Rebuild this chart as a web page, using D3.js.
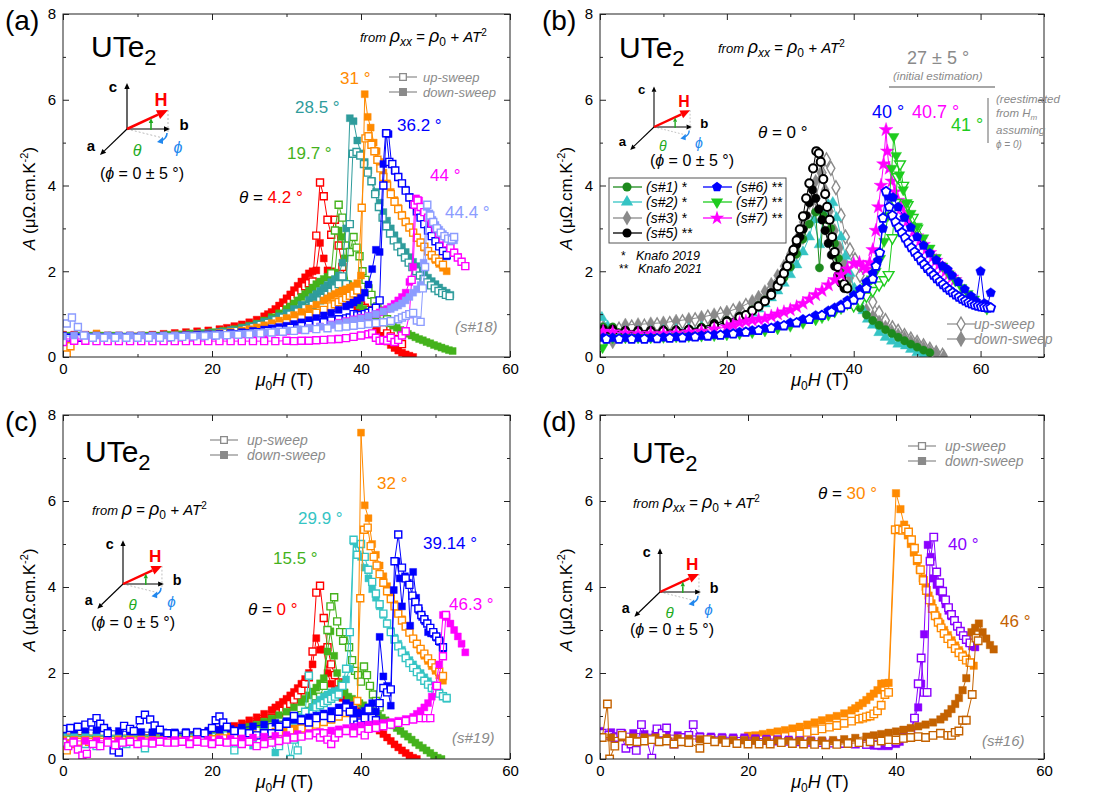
<!DOCTYPE html>
<html>
<head>
<meta charset="utf-8">
<script src="https://cdn.jsdelivr.net/npm/d3@7"></script>
<style>
  body { margin: 0; background: #fff; }
  svg { display: block; }
  text { font-family: "Liberation Sans", Arial, sans-serif; }
</style>
</head>
<body>
<svg id="fig" width="1093" height="811"></svg>
<script>
// ---------- data : [field (T), A (µΩ.cm.K^-2)] ----------
// panel (a), sample s#18
const aRedDn = [[0,0.52],[1.5,0.52],[3,0.52],[4.5,0.52],[6,0.5],[7.5,0.5],[9,0.5],[10.5,0.5],[12,0.52],[13.5,0.54],[15,0.56],[16.5,0.58],[18,0.6],[19.5,0.62],[21,0.65],[22,0.68],[23,0.72],[24,0.76],[25,0.81],[26,0.87],[27,0.95],[27.5,1.0],[28,1.05],[28.5,1.12],[29,1.2],[29.5,1.28],[30,1.37],[30.5,1.46],[31,1.56],[31.5,1.66],[32,1.76],[32.5,1.86],[33,1.95],[33.5,2.0],[34,2.02],[34.5,2.66],[35,2.3],[35.5,2.02],[36,2.0],[36.5,1.92],[37,1.78],[37.5,1.64],[38,1.5],[38.5,1.38],[39,1.27],[39.5,1.16],[40,1.06],[40.5,0.98],[41,0.9],[41.5,0.8],[42,0.7],[42.5,0.57],[43,0.46],[43.5,0.36],[44,0.28],[44.5,0.21],[45,0.15],[45.5,0.1],[46,0.06],[46.5,0.03],[47,0.0]];
const aRedUp = [[0.5,0.48],[2,0.48],[3.5,0.47],[5,0.47],[6.5,0.46],[8,0.46],[9.5,0.47],[11,0.47],[12.5,0.48],[14,0.49],[15.5,0.5],[17,0.52],[18.5,0.53],[20,0.55],[21.5,0.58],[23,0.62],[24,0.66],[25,0.7],[26,0.75],[27,0.82],[28,0.9],[28.5,0.96],[29,1.02],[29.5,1.1],[30,1.18],[30.5,1.27],[31,1.36],[31.5,1.46],[32,1.55],[32.5,1.65],[33,1.72],[33.5,1.76],[34,2.83],[34.5,4.07],[35,3.75],[35.5,3.2],[36,2.85],[36.5,3.2],[37,2.6],[37.5,2.1],[38,1.7],[38.5,1.5],[39,1.35],[39.5,1.25],[40,1.2],[40.5,1.15],[41,1.1],[41.5,1.05],[42,0.95],[42.5,0.8],[43,0.65],[43.5,0.55],[44,0.48],[44.5,0.42],[45,0.38],[45.5,0.3]];
const aGreenDn = [[0.5,0.5],[2,0.5],[3.5,0.5],[5,0.5],[6.5,0.5],[8,0.48],[9.5,0.48],[11,0.5],[12.5,0.5],[14,0.52],[15.5,0.53],[17,0.55],[18.5,0.56],[20,0.58],[21.5,0.61],[23,0.65],[24,0.69],[25,0.73],[26,0.78],[27,0.85],[28,0.93],[29,1.02],[30,1.12],[30.5,1.18],[31,1.25],[31.5,1.32],[32,1.4],[32.5,1.47],[33,1.55],[33.5,1.62],[34,1.7],[34.5,1.76],[35,1.82],[35.5,1.87],[36,1.92],[36.5,1.97],[37,2.95],[37.4,2.8],[37.8,2.3],[38.3,1.7],[38.8,1.45],[39.3,1.3],[39.8,1.2],[40.3,1.12],[40.8,1.06],[41.3,1.0],[41.8,0.95],[42.3,0.9],[42.8,0.86],[43.3,0.82],[43.8,0.78],[44.3,0.73],[44.8,0.68],[45.3,0.63],[45.8,0.58],[46.3,0.54],[46.8,0.5],[47.3,0.46],[47.8,0.42],[48.3,0.39],[48.8,0.35],[49.3,0.32],[49.8,0.28],[50.3,0.25],[50.8,0.22],[51.3,0.19],[51.8,0.16],[52.3,0.14]];
const aGreenUp = [[0,0.45],[1.5,0.45],[3,0.45],[4.5,0.45],[6,0.45],[7.5,0.45],[9,0.45],[10.5,0.45],[12,0.46],[13.5,0.47],[15,0.48],[16.5,0.49],[18,0.5],[19.5,0.52],[21,0.54],[22.5,0.57],[24,0.6],[25,0.63],[26,0.67],[27,0.72],[28,0.78],[29,0.84],[30,0.9],[30.5,0.95],[31,1.0],[31.5,1.05],[32,1.1],[32.5,1.16],[33,1.22],[33.5,1.3],[34,1.38],[34.5,1.45],[35,1.55],[35.5,1.7],[36,1.95],[36.5,2.95],[37,3.55],[37.5,3.25],[38,2.6],[38.5,2.45],[39,2.8],[39.4,2.55],[39.8,2.35],[40.2,2.0],[40.6,1.8],[41,1.6],[41.4,1.45],[41.8,1.3],[42.2,1.18],[42.6,1.08],[43,0.98],[43.5,0.88],[44,0.8]];
const aTealDn = [[0,0.48],[1.5,0.48],[3,0.48],[4.5,0.48],[6,0.48],[7.5,0.48],[9,0.48],[10.5,0.48],[12,0.49],[13.5,0.5],[15,0.51],[16.5,0.52],[18,0.54],[19.5,0.56],[21,0.59],[22.5,0.63],[24,0.67],[25,0.71],[26,0.76],[27,0.82],[28,0.88],[29,0.95],[30,1.03],[31,1.12],[32,1.22],[33,1.33],[33.5,1.4],[34,1.47],[34.5,1.54],[35,1.61],[35.5,1.68],[36,1.75],[36.5,1.82],[37,1.9],[37.5,2.2],[38,3.0],[38.5,5.57],[39,5.5],[39.5,5.05],[40,4.75],[40.5,4.55],[41,4.35],[41.5,4.1],[42,3.85],[42.5,3.6],[43,3.38],[43.5,3.18],[44,3.0],[44.5,2.84],[45,2.7],[45.5,2.57],[46,2.45],[46.5,2.33],[47,2.22],[47.5,2.12],[48,2.02],[48.5,1.93],[49,1.85],[49.5,1.77],[50,1.7],[50.5,1.62],[51,1.55],[51.5,1.5],[52,1.45]];
const aTealUp = [[0.5,0.45],[2,0.45],[3.5,0.45],[5,0.45],[6.5,0.45],[8,0.45],[9.5,0.45],[11,0.45],[12.5,0.46],[14,0.47],[15.5,0.48],[17,0.5],[18.5,0.52],[20,0.54],[21.5,0.57],[23,0.61],[24.5,0.66],[25.5,0.7],[26.5,0.75],[27.5,0.8],[28.5,0.86],[29.5,0.92],[30.5,0.99],[31.5,1.06],[32.5,1.14],[33.5,1.22],[34.5,1.32],[35,1.38],[35.5,1.45],[36,1.52],[36.5,1.6],[37,1.7],[37.5,1.88],[38,1.7],[38.5,3.1],[38.9,4.74],[39.4,4.78],[39.9,4.7],[40.4,4.5],[40.9,4.3],[41.4,4.1],[41.9,3.8],[42.4,3.5],[42.9,3.25],[43.4,3.05],[43.9,2.88],[44.4,2.72],[44.9,2.58],[45.4,2.45],[45.9,2.32],[46.4,2.2],[46.9,2.1],[47.4,2.0],[47.9,1.9],[48.4,1.82],[48.9,1.74],[49.4,1.67],[49.9,1.6],[50.4,1.54],[50.9,1.49],[51.4,1.45],[51.9,1.42]];
const aOrangeDn = [[0,0.5],[1.5,0.5],[3,0.5],[4.5,0.55],[6,0.5],[7.5,0.5],[9,0.5],[10.5,0.5],[12,0.5],[13.5,0.5],[15,0.51],[16.5,0.52],[18,0.53],[19.5,0.54],[21,0.56],[22.5,0.59],[24,0.62],[25,0.65],[26,0.69],[27,0.74],[28,0.79],[29,0.85],[30,0.91],[31,0.98],[32,1.05],[33,1.13],[34,1.22],[35,1.32],[35.5,1.37],[36,1.42],[36.5,1.47],[37,1.51],[37.5,1.55],[38,1.58],[38.5,1.62],[39,1.66],[39.5,1.72],[40,1.9],[40.5,6.13],[40.9,5.6],[41.3,5.35],[41.7,5.0],[42.1,4.8],[42.5,4.55],[43,4.3],[43.5,4.05],[44,3.85],[44.5,3.66],[45,3.48],[45.5,3.32],[46,3.17],[46.5,3.03],[47,2.9],[47.5,2.78],[48,2.66],[48.5,2.55],[49,2.45],[49.5,2.35],[50,2.26],[50.5,2.17],[51,2.08],[51.5,2.0]];
const aOrangeUp = [[0.5,0.06],[1,0.25],[1.5,0.42],[3,0.45],[4.5,0.45],[6,0.45],[7.5,0.45],[9,0.45],[10.5,0.45],[12,0.45],[13.5,0.46],[15,0.47],[16.5,0.48],[18,0.49],[19.5,0.5],[21,0.52],[22.5,0.54],[24,0.57],[25.5,0.61],[27,0.66],[28,0.7],[29,0.74],[30,0.79],[31,0.84],[32,0.9],[33,0.96],[34,1.03],[35,1.1],[36,1.18],[36.5,1.23],[37,1.28],[37.5,1.33],[38,1.38],[38.5,1.43],[39,1.48],[39.5,1.55],[40.1,3.48],[40.6,5.1],[41,5.15],[41.4,4.95],[41.8,4.8],[42.2,4.6],[42.6,4.4],[43,4.2],[43.5,4.0],[44,3.8],[44.5,3.62],[45,3.45],[45.5,3.3],[46,3.15],[46.5,3.02],[47,2.9],[47.5,2.78],[48,2.67],[48.5,2.57],[49,2.47],[49.5,2.38],[50,2.3],[50.5,2.22],[51,2.15]];
const aBlueDn = [[0,0.5],[1.5,0.5],[3,0.5],[4.5,0.5],[6,0.5],[7.5,0.5],[9,0.5],[10.5,0.5],[12,0.5],[13.5,0.5],[15,0.5],[16.5,0.51],[18,0.52],[19.5,0.53],[21,0.54],[22.5,0.56],[24,0.58],[25.5,0.61],[27,0.64],[28,0.67],[29,0.7],[30,0.73],[31,0.77],[32,0.81],[33,0.86],[34,0.91],[35,0.97],[36,1.03],[37,1.1],[38,1.18],[38.5,1.22],[39,1.27],[39.5,1.32],[40,1.38],[40.5,1.5],[41,1.69],[41.5,2.05],[42,2.5],[42.5,2.45],[43,4.5],[43.3,5.22],[43.7,5.2],[44.1,4.5],[44.5,4.35],[45,4.2],[45.5,4.05],[46,3.9],[46.5,3.73],[47,3.58],[47.5,3.43],[48,3.28],[48.5,3.14],[49,3.0],[49.5,2.87],[50,2.74],[50.5,2.6],[51,2.47],[51.5,2.35]];
const aBlueUp = [[0.5,0.45],[2,0.45],[3.5,0.45],[5,0.45],[6.5,0.45],[8,0.45],[9.5,0.45],[11,0.45],[12.5,0.45],[14,0.46],[15.5,0.47],[17,0.48],[18.5,0.49],[20,0.5],[21.5,0.51],[23,0.53],[24.5,0.55],[26,0.58],[27.5,0.61],[29,0.64],[30.5,0.68],[32,0.72],[33,0.75],[34,0.78],[35,0.81],[36,0.85],[37,0.88],[38,0.9],[38.5,0.92],[39,1.0],[39.5,0.97],[40,0.98],[40.5,1.0],[41,1.03],[41.5,1.08],[42,1.15],[42.5,1.32],[43,4.0],[43.4,5.22],[43.8,4.55],[44.2,4.5],[44.6,4.35],[45,4.2],[45.5,4.05],[46,3.88],[46.5,3.72],[47,3.56],[47.5,3.4],[48,3.25],[48.5,3.1],[49,2.95],[49.5,2.82],[50,2.7],[50.5,2.58],[51,2.47],[51.5,2.38]];
const aMagentaDn = [[0,0.42],[1.5,0.42],[3,0.42],[4.5,0.42],[6,0.42],[7.5,0.42],[9,0.42],[10.5,0.42],[12,0.43],[13.5,0.43],[15,0.44],[16.5,0.44],[18,0.45],[19.5,0.46],[21,0.47],[22.5,0.48],[24,0.5],[25.5,0.52],[27,0.55],[28.5,0.58],[30,0.6],[31.5,0.63],[33,0.67],[34.5,0.71],[36,0.76],[37,0.8],[38,0.84],[39,0.88],[40,0.92],[41,0.96],[42,1.0],[42.5,1.04],[43,1.08],[43.5,1.12],[44,1.17],[44.5,1.24],[45,1.32],[45.5,1.4],[46,1.5],[46.5,1.75],[47,2.1],[47.4,3.7],[47.8,3.65],[48.2,3.5],[48.6,3.38],[49,3.27],[49.5,3.15],[50,3.03],[50.5,2.9],[51,2.78],[51.5,2.66],[52,2.55],[52.5,2.44],[53,2.33],[53.5,2.22],[54,2.12]];
const aMagentaUp = [[0,0.35],[1.5,0.38],[3,0.38],[4.5,0.37],[6,0.37],[7.5,0.37],[9,0.37],[10.5,0.37],[12,0.37],[13.5,0.37],[15,0.37],[16.5,0.37],[18,0.37],[19.5,0.37],[21,0.37],[22.5,0.37],[24,0.37],[25.5,0.37],[27,0.37],[28.5,0.37],[30,0.38],[31,0.37],[32,0.38],[33,0.38],[34,0.39],[35,0.4],[36,0.41],[37,0.42],[38,0.44],[39,0.47],[40,0.5],[41,0.53],[41.5,0.55],[42,0.45],[42.5,0.38],[43,0.4],[43.5,0.38],[44,0.45],[44.5,0.35],[45,0.4],[45.5,0.5],[46,0.6],[46.5,1.0],[46.8,1.8],[47.2,3.55],[47.6,3.65],[48,3.5],[48.5,3.38],[49,3.25],[49.5,3.12],[50,3.0],[50.5,2.88],[51,2.76],[51.5,2.65],[52,2.54],[52.5,2.43],[53,2.32],[53.5,2.22],[54,2.12]];
const aLavDn = [[0,0.48],[1.5,0.5],[3,0.5],[4.5,0.5],[6,0.5],[7.5,0.5],[9,0.5],[10.5,0.5],[12,0.5],[13.5,0.5],[15,0.5],[16.5,0.5],[18,0.5],[19.5,0.51],[21,0.52],[22.5,0.53],[24,0.54],[25.5,0.56],[27,0.58],[28.5,0.6],[30,0.62],[31.5,0.65],[33,0.68],[34.5,0.71],[36,0.75],[37,0.78],[38,0.82],[39,0.86],[40,0.9],[41,0.95],[42,1.0],[43,1.06],[44,1.12],[44.5,1.16],[45,1.2],[45.5,1.25],[46,1.32],[46.5,1.4],[47,1.5],[47.5,1.58],[48,1.68],[48.4,2.2],[48.8,3.5],[49.2,3.35],[49.6,3.2],[50,3.08],[50.5,2.97],[51,2.87],[51.5,2.78],[52,2.7],[52.5,2.72]];
const aLavUp = [[0.5,0.78],[1.2,0.92],[2,0.7],[2.8,0.5],[4,0.45],[5.5,0.45],[7,0.45],[8.5,0.45],[10,0.45],[11.5,0.45],[13,0.45],[14.5,0.46],[16,0.47],[17.5,0.48],[19,0.49],[20.5,0.5],[22,0.51],[23.5,0.52],[25,0.53],[26.5,0.55],[28,0.57],[29.5,0.59],[31,0.61],[32.5,0.63],[34,0.65],[35.5,0.67],[37,0.69],[38,0.71],[39,0.73],[40,0.75],[41,0.77],[42,0.79],[43,0.81],[44,0.84],[45,0.88],[45.5,0.92],[46,0.96],[46.5,1.0],[47,1.03],[47.5,0.85],[48,0.82],[48.3,1.6],[48.6,2.1],[48.9,3.55],[49.3,3.3],[49.7,3.15],[50.2,3.0],[50.7,2.9],[51.2,2.82],[51.7,2.76],[52.2,2.74],[52.5,2.8]];

// panel (b), several samples
const bS1 = [[0.5,0.7],[2,0.7],[4,0.62],[6,0.6],[8,0.6],[10,0.62],[12,0.63],[14,0.65],[16,0.7],[18,0.78],[20,0.85],[22,0.95],[24,1.1],[25,1.2],[26,1.33],[27,1.48],[28,1.65],[29,1.85],[30,2.1],[31,2.4],[32,2.75],[33,3.1],[34,3.38],[34.6,2.08],[35.2,3.3],[35.8,3.2],[36.4,3.0],[37,2.65],[37.6,2.3],[38.2,1.96],[39,1.65],[40,1.35],[41,1.15],[42,0.98],[43,0.85],[44,0.74],[45,0.64],[46,0.55],[47,0.46],[48,0.38],[49,0.3],[50,0.23],[51,0.16],[52,0.1]];
const bS2 = [[0.3,0.92],[1.2,0.72],[2,0.62],[4,0.6],[6,0.6],[8,0.6],[10,0.62],[12,0.64],[14,0.66],[16,0.7],[18,0.74],[20,0.8],[22,0.9],[24,1.02],[25,1.12],[26,1.24],[27,1.38],[28,1.54],[29,1.72],[30,1.92],[31,2.15],[32,2.45],[33,2.8],[33.7,3.2],[34.6,2.62],[35.3,3.35],[36,3.55],[36.7,3.6],[37.3,3.25],[38,2.8],[38.7,2.35],[39.4,1.95],[40.1,1.6],[40.8,1.32],[41.5,1.08],[42.2,0.88],[43,0.74],[44,0.57],[45,0.46],[46,0.37],[47,0.3],[48.2,0.26],[49,0.18],[50,0.1],[51,0.03]];
const bS3 = [[0.5,0.7],[2,0.35],[4,0.75],[6,0.76],[8,0.78],[10,0.8],[12,0.84],[14,0.88],[16,0.93],[18,0.99],[20,1.05],[22,1.15],[24,1.3],[25,1.4],[26,1.53],[27,1.7],[28,1.9],[29,2.12],[30,2.4],[31,2.75],[32,3.15],[33,3.6],[34,4.1],[34.8,4.3],[35.5,3.9],[36.2,3.4],[37,2.95],[37.8,2.55],[38.6,2.2],[39.4,1.85],[40.2,1.55],[41,1.3],[42,1.1],[43,0.95],[44,0.82],[45,0.7],[46,0.6],[47,0.52],[48,0.45],[49,0.37],[50,0.3],[51,0.22],[52,0.14],[53,0.08],[54.2,0.02]];
const bS3Up = [[1,0.6],[3,0.65],[5,0.7],[7,0.72],[9,0.75],[11,0.78],[13,0.82],[15,0.87],[17,0.93],[19,1.0],[21,1.08],[23,1.2],[25,1.35],[27,1.6],[29,1.95],[30,2.15],[31,2.45],[32,2.8],[33,3.2],[34,3.7],[35,4.3],[35.7,4.6],[36.4,4.4],[37.2,3.95],[38,3.3],[38.7,2.8],[39.4,2.5],[40.2,2.27],[41,1.9],[42,1.55],[43,1.28],[44,1.03],[45,0.85],[46.1,0.68],[47,0.6],[48,0.5],[49,0.42],[50,0.34],[51,0.26],[52,0.18],[53,0.1],[54,0.04]];
const bS5 = [[0.5,0.65],[2,0.65],[4,0.62],[6,0.62],[8,0.62],[10,0.63],[12,0.63],[14,0.65],[16,0.68],[18,0.78],[20,0.85],[22,0.95],[24,1.08],[25,1.18],[26,1.32],[27,1.5],[28,1.7],[28.5,1.82],[29,1.98],[29.5,2.12],[30,2.28],[30.5,2.45],[31,2.62],[31.5,2.8],[32,2.98],[32.5,3.3],[33,3.6],[33.5,3.9],[34,3.7],[34.5,3.45],[35,3.2],[35.5,2.95],[36,2.65],[36.5,2.38],[37,2.12],[37.5,1.9],[38,1.72],[38.5,1.6]];
const bS5Up = [[0.5,0.6],[2,0.6],[4,0.58],[6,0.58],[8,0.58],[10,0.6],[12,0.6],[14,0.62],[16,0.65],[18,0.72],[20,0.82],[22,0.92],[23,0.98],[24,1.08],[25,1.18],[26,1.3],[27,1.45],[28,1.65],[28.5,1.78],[29,1.95],[29.5,2.12],[30,2.3],[30.5,2.5],[31,2.72],[31.5,2.98],[32,3.28],[32.5,3.7],[33,4.05],[33.6,4.4],[34.1,4.8],[34.5,4.75],[34.8,4.55],[35.2,4.15],[35.5,3.8],[35.8,3.5],[36.2,3.2],[36.6,2.8],[37,2.45],[37.5,2.1],[38,1.85],[38.5,1.7],[39,1.6]];
const bS6 = [[0.5,0.45],[2,0.45],[4,0.45],[6,0.45],[8,0.45],[10,0.46],[12,0.47],[14,0.48],[16,0.5],[18,0.52],[20,0.55],[22,0.58],[24,0.62],[26,0.67],[28,0.73],[30,0.8],[32,0.88],[34,0.97],[36,1.08],[37,1.15],[38,1.22],[39,1.32],[40,1.44],[41,1.58],[42,1.75],[43,1.95],[43.8,2.25],[44.6,3.0],[45.4,3.75],[46.2,3.72],[47,3.5],[48,3.25],[49,3.02],[50,2.8],[51,2.6],[52,2.42],[53,2.26],[54,2.12],[54.8,2.04],[55.5,1.9],[56.5,1.75],[57.5,1.58],[58.5,1.42],[59.3,1.3],[60,2.0],[60.6,1.25],[61.1,1.2],[61.6,1.5]];
const bS6Up = [[1,0.42],[3,0.42],[5,0.42],[7,0.42],[9,0.43],[11,0.44],[13,0.45],[15,0.47],[17,0.49],[19,0.51],[21,0.54],[23,0.58],[25,0.62],[27,0.67],[29,0.73],[31,0.8],[33,0.88],[35,0.97],[36.5,1.05],[38,1.15],[39,1.23],[40,1.33],[41,1.45],[42,1.6],[43,1.82],[43.5,2.12],[44.1,2.43],[44.6,3.24],[45.1,3.86],[45.6,3.5],[46.1,3.3],[46.6,3.15],[47.1,3.02],[47.6,2.9],[48.1,2.78],[48.6,2.66],[49.1,2.55],[49.6,2.45],[50.1,2.35],[50.6,2.25],[51.1,2.16],[51.6,2.07],[52.1,1.99],[52.6,1.91],[53.1,1.83],[53.6,1.76],[54.1,1.69],[54.6,1.62],[55.1,1.56],[55.6,1.5],[56.1,1.45],[56.6,1.4],[57.1,1.35],[57.6,1.31],[58.1,1.27],[58.6,1.24],[59.1,1.21],[59.6,1.19],[60.1,1.17],[60.6,1.16],[61.1,1.15],[61.6,1.15]];
const bS7g = [[0.4,0.22],[1,0.4],[2,0.45],[4,0.45],[6,0.45],[8,0.45],[10,0.46],[12,0.47],[14,0.48],[16,0.49],[18,0.5],[20,0.52],[22,0.54],[24,0.57],[26,0.61],[28,0.66],[30,0.72],[32,0.79],[34,0.87],[35,0.92],[36,0.98],[37,1.05],[38,1.13],[39,1.23],[40,1.35],[41,1.48],[42,1.65],[42.8,1.82],[43.5,2.0],[44.2,2.3],[44.8,2.7],[45.4,3.3],[46,4.4],[46.3,5.14],[46.7,4.7],[47.2,4.25],[47.8,3.9],[48.4,3.6],[49,3.35],[50,3.05],[51,2.78],[52,2.54],[53,2.32],[54,2.12],[55,1.94],[56,1.78],[57,1.62],[58,1.48],[59,1.35],[60,1.23],[61,1.12]];
const bS7gUp = [[40,1.2],[41,1.3],[42,1.42],[43,1.55],[44,1.68],[44.8,1.8],[45.5,1.92],[46.1,2.78],[46.6,3.6],[46.9,4.2],[47.3,4.5],[47.8,4.0],[48.5,3.55],[49.3,3.25],[50,3.0]];
const bS7m = [[0.5,0.6],[2,0.58],[4,0.56],[6,0.55],[8,0.55],[10,0.55],[12,0.56],[14,0.58],[16,0.6],[18,0.65],[20,0.7],[21,0.75],[22,0.8],[23,0.83],[24,0.86],[25,0.88],[26,0.9],[27,0.95],[28,1.0],[29,1.05],[30,1.1],[31,1.17],[32,1.25],[33,1.35],[34,1.45],[35,1.55],[36,1.68],[37,1.8],[38,1.92],[39,2.05],[40,2.18],[40.9,2.2],[41.5,2.1],[42,2.05],[42.5,2.2],[43,2.5],[43.5,2.95],[43.9,3.5],[44.3,4.0],[44.7,4.5],[45.1,5.3],[45.3,4.8],[45.6,4.4],[46,4.1],[46.5,3.85],[47,3.65],[47.5,3.48],[48,3.32],[48.5,3.18],[49,3.05],[49.5,2.93],[50,2.82],[50.5,2.72],[51,2.62],[51.5,2.52],[52,2.43],[52.5,2.34],[53,2.25],[53.5,2.16],[54,2.08],[54.5,2.0],[55,1.93],[55.5,1.86],[56,1.8]];

// panel (c), sample s#19
const cRedDn = [[0,0.58],[1.5,0.58],[3,0.56],[4.5,0.55],[6,0.55],[7.5,0.55],[9,0.56],[10.5,0.56],[12,0.57],[13.5,0.58],[15,0.59],[16.5,0.6],[18,0.62],[19.5,0.64],[21,0.68],[22,0.72],[23,0.77],[24,0.83],[25,0.9],[26,0.97],[27,1.05],[28,1.14],[28.5,1.2],[29,1.26],[29.5,1.33],[30,1.4],[30.5,1.48],[31,1.56],[31.5,1.65],[32,1.75],[32.5,1.86],[33,2.0],[33.5,2.2],[34,2.81],[34.5,2.54],[35,2.55],[35.5,2.0],[36,1.75],[36.5,1.6],[37,1.5],[37.5,1.42],[38,1.35],[38.5,1.28],[39,1.2],[39.5,1.12],[40,1.05],[40.5,0.98],[41,0.9],[41.5,0.82],[42,0.74],[42.5,0.66],[43,0.58],[43.5,0.5],[44,0.42],[44.5,0.34],[45,0.27],[45.5,0.2],[46,0.14],[46.5,0.08],[47,0.03],[47.5,0.0]];
const cRedUp = [[0.5,0.45],[2,0.45],[3.5,0.45],[5,0.45],[6.5,0.45],[8,0.45],[9.5,0.46],[11,0.46],[12.5,0.47],[14,0.48],[15.5,0.49],[17,0.5],[18.5,0.52],[20,0.55],[21.5,0.59],[23,0.64],[24,0.69],[25,0.75],[26,0.81],[27,0.88],[28,0.96],[29,1.06],[29.5,1.12],[30,1.2],[30.5,1.28],[31,1.38],[31.5,1.48],[32,1.6],[32.5,1.75],[33,1.9],[33.5,2.5],[34,3.87],[34.5,4.03],[35,3.28],[35.5,2.6],[36,2.2],[36.5,1.95],[37,1.78]];
const cGreenDn = [[0,0.55],[1.5,0.55],[3,0.55],[4.5,0.55],[6,0.55],[7.5,0.55],[9,0.55],[10.5,0.55],[12,0.56],[13.5,0.56],[15,0.57],[16.5,0.58],[18,0.59],[19.5,0.6],[21,0.62],[22.5,0.65],[24,0.7],[25,0.75],[26,0.8],[27,0.87],[28,0.94],[29,1.02],[30,1.1],[31,1.2],[32,1.32],[32.5,1.4],[33,1.48],[33.5,1.57],[34,1.66],[34.5,1.76],[35,1.88],[35.5,2.5],[35.9,2.97],[36.4,2.4],[36.8,2.0],[37.3,1.75],[37.8,1.55],[38.3,1.45],[38.8,1.4],[39.3,1.35],[39.8,1.3],[40.3,1.25],[40.8,1.2],[41.3,1.14],[41.8,1.08],[42.3,1.02],[42.8,0.96],[43.3,0.9],[43.8,0.84],[44.3,0.78],[44.8,0.72],[45.3,0.65],[45.8,0.58],[46.3,0.52],[46.8,0.45],[47.3,0.38],[47.8,0.32],[48.3,0.26],[48.8,0.2],[49.3,0.14],[49.8,0.08],[50.3,0.03],[50.8,0.0]];
const cGreenUp = [[0.5,0.45],[2,0.45],[3.5,0.45],[5,0.45],[6.5,0.45],[8,0.45],[9.5,0.45],[11,0.45],[12.5,0.45],[14,0.46],[15.5,0.47],[17,0.48],[18.5,0.5],[20,0.52],[21.5,0.54],[23,0.57],[24.5,0.61],[26,0.66],[27,0.7],[28,0.75],[29,0.8],[30,0.86],[31,0.93],[32,1.02],[33,1.12],[33.5,1.2],[34,1.3],[34.5,1.45],[35,1.7],[35.5,3.0],[35.9,3.55],[36.4,3.76],[36.8,3.2],[37.2,2.95],[37.6,2.75],[38,2.95],[38.4,2.6],[38.8,2.3],[39.2,2.05],[39.6,1.95],[40,1.8],[40.4,2.15],[40.8,1.95],[41.2,1.7],[41.6,1.5],[42,1.35],[42.5,1.2]];
const cCyanDn = [[0,0.55],[1.5,0.55],[3,0.55],[4.5,0.55],[6,0.55],[7.5,0.55],[9,0.55],[10.5,0.55],[12,0.55],[13.5,0.55],[15,0.56],[16.5,0.56],[18,0.57],[19.5,0.58],[21,0.6],[22.5,0.62],[24,0.64],[25.5,0.31],[27,0.7],[28.5,0.15],[30,0.8],[31,0.88],[32,0.98],[33,1.1],[33.5,1.2],[34,1.3],[34.5,1.38],[35,1.45],[35.5,1.5],[36,1.55],[36.5,1.58],[37,1.6],[37.5,1.7],[38,1.85],[38.5,2.1],[39,5.06],[39.5,5.0],[40,4.7],[40.5,4.45],[41,4.2],[41.5,3.95],[42,3.75],[42.5,3.55],[43,3.35],[43.5,3.15],[44,2.98],[44.5,2.82],[45,2.68],[45.5,2.54],[46,2.42],[46.5,2.3],[47,2.2],[47.5,2.1],[48,2.0],[48.5,1.9],[49,1.81],[49.5,1.72],[50,1.63],[50.5,1.55],[51,1.47],[51.5,1.4]];
const cCyanUp = [[0,0.42],[1.5,0.38],[3,0.35],[4.5,0.3],[6,0.42],[7.5,0.45],[8.5,0.35],[10,0.4],[11,0.25],[12,0.45],[13.5,0.5],[15,0.45],[16.5,0.5],[18,0.55],[19.5,0.5],[21,0.4],[22,0.55],[23,0.2],[24,0.45],[25.5,0.5],[27,0.55],[28,0.6],[29,0.3],[30,0.55],[30.5,0.0],[31,0.45],[31.5,0.2],[32,0.95],[32.5,1.1],[33,1.94],[33.5,1.05],[34,1.2],[34.5,1.25],[35,1.3],[35.5,1.35],[36,1.4],[36.5,1.45],[37,1.5],[37.5,1.7],[38,2.1],[38.5,2.95],[39,5.1],[39.5,4.75],[40,5.0],[40.5,4.7],[41,4.4],[41.5,4.12],[42,3.85],[42.5,3.6],[43,3.38],[43.5,3.15],[44,2.95],[44.5,2.78],[45,2.62],[45.5,2.48],[46,2.35],[46.5,2.23],[47,2.12],[47.5,2.02],[48,1.92],[48.5,1.82],[49,1.73],[49.5,1.65],[50,1.58],[50.5,1.52],[51,1.46],[51.5,1.42]];
const cOrangeDn = [[0,0.45],[1.5,0.45],[3,0.45],[4.5,0.45],[6,0.45],[7.5,0.46],[9,0.46],[10.5,0.47],[12,0.47],[13.5,0.48],[15,0.48],[16.5,0.49],[18,0.5],[19.5,0.51],[21,0.52],[22.5,0.54],[24,0.56],[25.5,0.58],[27,0.61],[28.5,0.64],[30,0.68],[31,0.71],[32,0.75],[33,0.8],[34,0.85],[35,0.9],[36,0.96],[37,1.03],[37.5,1.08],[38,1.12],[38.5,1.15],[39,1.05],[39.5,0.85],[40,7.59],[40.5,5.9],[41,5.6],[41.5,5.0],[42,4.75],[42.5,4.5],[43,4.25],[43.5,4.02],[44,3.8],[44.5,3.6],[45,3.42],[45.5,3.25],[46,3.1],[46.5,2.95],[47,2.8],[47.5,2.66],[48,2.52],[48.5,2.4],[49,2.28],[49.5,2.16],[50,2.05],[50.5,1.94],[51,1.82]];
const cOrangeUp = [[0.5,0.2],[1,0.35],[2,0.4],[3.5,0.4],[5,0.4],[6.5,0.4],[8,0.4],[9.5,0.41],[11,0.41],[12.5,0.42],[14,0.42],[15.5,0.43],[17,0.44],[18.5,0.45],[20,0.46],[21.5,0.48],[23,0.5],[24.5,0.52],[26,0.55],[27.5,0.58],[29,0.62],[30.5,0.66],[32,0.71],[33,0.75],[34,0.8],[35,0.86],[36,0.92],[37,0.99],[38,1.07],[38.5,1.15],[39,1.25],[39.5,1.35],[39.9,3.74],[40.4,5.33],[40.9,5.38],[41.3,4.95],[41.7,4.7],[42.1,4.5],[42.5,4.3],[43,4.1],[43.5,3.9],[44,3.72],[44.5,3.55],[45,3.38],[45.5,3.22],[46,3.08],[46.5,2.94],[47,2.8],[47.5,2.68],[48,2.56],[48.5,2.45],[49,2.34],[49.5,2.23],[50,2.13],[50.5,2.03],[51,1.93]];
const cBlueDn = [[0,0.68],[1.5,0.68],[3,0.68],[4.5,0.67],[6,0.66],[7.5,0.65],[9,0.64],[10.5,0.63],[12,0.62],[13.5,0.62],[15,0.62],[16.5,0.63],[18,0.64],[19.5,0.66],[21,0.68],[22.5,0.7],[24,0.73],[25.5,0.76],[27,0.8],[28.5,0.84],[30,0.88],[31,0.91],[32,0.94],[33,0.97],[34,1.01],[35,1.06],[36,1.12],[37,1.2],[38,1.3],[38.5,1.25],[39,1.15],[39.5,1.08],[40,1.05],[40.5,1.12],[41,1.2],[41.5,1.3],[42,1.1],[42.5,2.84],[43,1.92],[43.5,1.7],[44,1.24],[44.4,3.93],[44.8,4.6],[45.2,4.2],[45.5,3.55],[45.9,4.25],[46.3,4.1],[46.6,3.1],[47,4.35],[47.4,3.75],[47.8,3.45],[48.2,3.3],[48.6,3.2],[49,2.95],[49.4,2.92],[49.8,2.9],[50.2,2.82],[50.6,2.72],[51,2.55]];
const cBlueUp = [[0,0.7],[1,0.72],[2,0.75],[3,0.8],[3.8,0.85],[4.5,0.95],[5,0.82],[5.5,0.72],[6,0.6],[6.8,0.2],[7.5,0.15],[8.2,0.77],[9,0.7],[9.5,0.65],[10.3,0.9],[11,1.03],[11.7,0.92],[12.3,0.78],[13,0.68],[14,0.6],[15,0.58],[16.5,0.6],[18,0.62],[19,0.6],[20,0.72],[20.5,0.9],[21,0.99],[21.5,0.85],[22,0.75],[23,0.65],[24,0.62],[25,0.6],[26,0.55],[27,0.6],[28,0.6],[29,0.75],[30,0.82],[31,1.0],[32,0.9],[33,0.85],[34,0.95],[35,1.0],[36,0.95],[37,1.1],[38,1.2],[38.5,1.1],[39,0.9],[39.5,0.8],[40,0.85],[40.5,0.95],[41,1.15],[41.5,0.95],[42,0.9],[42.5,1.3],[43,1.65],[43.5,1.55],[44,1.62],[44.5,4.6],[45,5.22],[45.5,4.45],[46,4.2],[46.5,4.05],[46.9,3.8],[47.3,3.65],[47.7,3.5],[48.1,3.35],[48.5,3.25],[48.9,3.15],[49.3,3.05],[49.7,2.95],[50.1,2.85],[50.5,2.75],[51,2.6]];
const cMagentaDn = [[0,0.4],[1.5,0.42],[3,0.42],[4.5,0.42],[6,0.42],[7.5,0.42],[9,0.42],[10.5,0.43],[12,0.43],[13.5,0.43],[15,0.44],[16.5,0.44],[18,0.45],[19.5,0.45],[21,0.46],[22.5,0.47],[24,0.48],[25.5,0.5],[27,0.52],[28.5,0.54],[30,0.56],[31.5,0.58],[33,0.6],[34.5,0.63],[36,0.66],[37,0.69],[38,0.72],[39,0.75],[40,0.78],[41,0.8],[42,0.82],[43,0.84],[44,0.86],[45,0.89],[46,0.93],[47,0.98],[47.5,1.05],[48,1.12],[48.5,1.2],[49,1.3],[49.5,1.45],[50,1.7],[50.5,2.2],[51,3.35],[51.5,3.3],[52,3.15],[52.5,3.0],[53,2.85],[53.5,2.68],[54,2.48]];
const cMagentaUp = [[0,0.38],[0.7,0.3],[1.4,0.38],[2,0.22],[2.6,0.08],[3.2,0.12],[4,0.35],[5,0.3],[6,0.38],[7,0.32],[8,0.38],[9,0.4],[10,0.35],[11,0.38],[12,0.36],[13,0.4],[14,0.38],[15,0.38],[16,0.4],[17,0.35],[18,0.4],[19,0.38],[20,0.35],[21,0.4],[22,0.38],[23,0.4],[24,0.35],[25,0.4],[26,0.3],[27,0.35],[28,0.38],[29,0.42],[30,0.45],[31,0.5],[32,0.52],[33,0.55],[34,0.6],[34.5,0.5],[35,0.6],[35.5,0.45],[36,0.35],[36.5,0.5],[37,0.6],[38,0.65],[39,0.6],[40,0.65],[40.5,0.55],[41,0.7],[42,0.72],[43,0.76],[44,0.8],[45,0.84],[46,0.88],[47,0.92],[48,0.95],[48.7,0.95],[49.3,0.95],[50.2,1.7],[51,2.39],[51.4,3.35]];

// panel (d), sample s#16
const dOrangeDn = [[20,0.54],[21,0.55],[22,0.58],[23,0.61],[24,0.64],[25,0.67],[26,0.71],[27,0.75],[28,0.8],[29,0.85],[30,0.9],[31,0.95],[32,1.0],[33,1.06],[34,1.13],[34.5,1.18],[35,1.24],[35.5,1.3],[36,1.37],[36.5,1.45],[37,1.52],[37.5,1.6],[38,1.75],[38.5,1.76],[39,1.77],[40,6.18],[40.6,5.81],[41.1,5.45],[41.6,5.2],[42,5.0],[42.4,4.8],[42.8,4.6],[43.2,4.4],[43.6,4.2],[44,4.0],[44.4,3.8],[44.8,3.62],[45.2,3.45],[45.6,3.3],[46,3.15],[46.5,3.0],[47,2.88],[47.5,2.76],[48,2.64],[48.5,2.53],[49,2.43],[49.5,2.34],[50,2.25],[50.5,2.17]];
const dOrangeUp = [[22,0.45],[23,0.47],[24,0.5],[25,0.52],[26,0.55],[27,0.58],[28,0.62],[29,0.66],[30,0.7],[31,0.74],[32,0.78],[33,0.83],[34,0.88],[35,0.93],[35.5,0.95],[36,0.98],[36.5,1.0],[37,1.05],[37.5,1.12],[38,1.25],[38.5,1.5],[39,1.55],[39.9,5.33],[40.4,5.35],[40.9,5.32],[41.3,5.35],[41.7,5.28],[42.1,5.1],[42.5,4.9],[42.9,4.65],[43.3,4.4],[43.7,4.15],[44.1,3.92],[44.5,3.7],[44.9,3.5],[45.3,3.33],[45.7,3.18],[46.1,3.05],[46.5,2.92],[47,2.8],[47.5,2.68],[48,2.57],[48.5,2.47],[49,2.38],[49.5,2.3],[50,2.24]];
const dPurpleDn = [[0,0.65],[1.5,0.62],[3,0.6],[4.5,0.6],[6,0.58],[7.5,0.57],[9,0.56],[10.5,0.55],[12,0.54],[13.5,0.53],[15,0.52],[16.5,0.51],[18,0.5],[19.5,0.5],[21,0.48],[22.5,0.47],[24,0.46],[25.5,0.45],[27,0.44],[28.5,0.43],[30,0.42],[31.5,0.4],[33,0.38],[34.5,0.36],[36,0.33],[37,0.31],[38,0.3],[39,0.3],[40,0.35],[40.5,0.4],[41,0.48],[41.5,0.55],[42,0.68],[42.5,0.95],[43,1.2],[43.4,1.75],[43.8,2.9],[44.3,4.98],[44.7,4.7],[45.1,4.2],[45.5,4.05],[45.9,3.9],[46.3,3.75],[46.7,3.6],[47.1,3.45],[47.5,3.32],[47.9,3.2],[48.3,3.08],[48.7,2.97],[49.1,2.87],[49.5,2.78],[49.9,2.7],[50.3,2.62],[50.7,2.6]];
const dPurpleUp = [[0.3,0.6],[1.2,0.55],[2,0.5],[2.8,0.6],[3.5,0.25],[4.2,0.35],[4.9,0.2],[5.6,0.8],[6.3,0.45],[7,0.02],[7.7,0.7],[8.4,0.6],[9,0.72],[10,0.35],[11,0.5],[12,0.55],[12.6,0.8],[13.5,0.5],[15,0.48],[16.5,0.47],[18,0.46],[19.5,0.45],[21,0.44],[22.5,0.43],[24,0.42],[25.5,0.41],[27,0.4],[28.5,0.39],[30,0.38],[31.5,0.37],[33,0.36],[34.5,0.35],[36,0.34],[37.5,0.33],[39,0.35],[40,0.4],[41,0.5],[42,0.6],[42.5,0.95],[43,1.75],[43.4,2.35],[43.8,1.55],[44.2,1.55],[44.6,4.6],[45.1,5.16],[45.5,4.35],[45.9,4.1],[46.3,3.9],[46.7,3.7],[47.1,3.52],[47.5,3.36],[47.9,3.22],[48.3,3.09],[48.7,2.97],[49.1,2.87],[49.5,2.78],[50,2.7]];
const dBrownDn = [[0,0.5],[1.5,0.5],[3,0.5],[4.5,0.5],[6,0.5],[7.5,0.5],[9,0.49],[10.5,0.48],[12,0.47],[13.5,0.46],[15,0.45],[16.5,0.45],[18,0.44],[19.5,0.44],[21,0.43],[22.5,0.43],[24,0.43],[25.5,0.42],[27,0.42],[28.5,0.42],[30,0.43],[31.5,0.44],[33,0.46],[34.5,0.49],[36,0.52],[37,0.55],[38,0.58],[39,0.61],[40,0.64],[41,0.68],[42,0.72],[43,0.76],[44,0.8],[45,0.85],[46,0.92],[46.5,0.98],[47,1.06],[47.5,1.16],[48,1.28],[48.5,1.42],[49,1.6],[49.5,1.88],[50.2,2.95],[50.7,3.05],[51.2,3.15],[51.7,2.95],[52.2,2.8],[52.7,2.65],[53.2,2.55]];
const dBrownUp = [[0.3,0.5],[1,1.28],[1.3,0.0],[2,0.3],[3,0.55],[4,0.42],[5,0.4],[6,0.42],[7,0.45],[8,0.4],[9,0.42],[10,0.35],[11,0.4],[12,0.38],[13.5,0.25],[14.5,0.45],[15.5,0.4],[17,0.38],[18.5,0.36],[20,0.35],[21.5,0.35],[23,0.35],[24.5,0.38],[26,0.36],[27.5,0.35],[29,0.34],[30.5,0.33],[32,0.34],[33.5,0.36],[35,0.38],[36.5,0.4],[38,0.42],[39,0.45],[40,0.44],[41,0.48],[42,0.5],[43,0.52],[44,0.5],[45,0.55],[46,0.6],[47,0.55],[47.5,0.55],[48,0.62],[48.5,0.65],[49,0.9],[49.5,0.9],[50.3,1.5],[50.8,2.81],[51.1,2.75]];

// tick values
const yMajor = [0, 2, 4, 6, 8];
const yMinor = [1, 3, 5, 7];

// ---------- drawing ----------
const svg = d3.select("#fig");
const FONT = '"Liberation Sans", Arial, sans-serif';

const col = {
  red: "#ff0000", green: "#44b21c", teal: "#2f9c9c", orange: "#ff8a00", blue: "#0000ff",
  magenta: "#ff00ff", lav: "#8c9cff", cyan: "#35c4c4", purple: "#8a00ff", brown: "#c46200",
  dgreen: "#1d8a1d", bgreen: "#1ecc1e", gray: "#8a8a8a"
};

// extra marker shapes
const symPentagon = {
  draw(ctx, size) {
    const r = Math.sqrt(size / 2.378);
    for (let i = 0; i < 5; i++) {
      const a = -Math.PI / 2 + i * 2 * Math.PI / 5;
      i ? ctx.lineTo(r * Math.cos(a), r * Math.sin(a)) : ctx.moveTo(r * Math.cos(a), r * Math.sin(a));
    }
    ctx.closePath();
  }
};
const symTriDown = {
  draw(ctx, size) {
    const s = Math.sqrt(size * 4 / Math.sqrt(3)), h = s * Math.sqrt(3) / 2;
    ctx.moveTo(-s / 2, -h / 3); ctx.lineTo(s / 2, -h / 3); ctx.lineTo(0, 2 * h / 3); ctx.closePath();
  }
};
const SQ = d3.symbolSquare;

function txt(x, y, parts, opt = {}) {
  const t = svg.append("text").attr("x", x).attr("y", y)
    .attr("font-size", opt.size || 17).attr("fill", opt.color || "#000");
  if (opt.anchor) t.attr("text-anchor", opt.anchor);
  if (opt.italic) t.attr("font-style", "italic");
  if (opt.rotate) t.attr("transform", `rotate(-90, ${x}, ${y})`);
  parts.forEach(p => {
    if (typeof p === "string") p = { t: p };
    const ts = t.append("tspan").text(p.t);
    if (p.c) ts.attr("fill", p.c);
    if (p.i) ts.attr("font-style", "italic");
    if (p.n) ts.attr("font-style", "normal");
    if (p.s) ts.attr("font-size", p.s);
    if (p.dy) ts.attr("dy", p.dy);
    if (p.b) ts.attr("font-weight", "bold");
  });
  return t;
}

function arrow(g, x1, y1, x2, y2, color, w, head) {
  const ang = Math.atan2(y2 - y1, x2 - x1);
  const bx = x2 - head * Math.cos(ang), by = y2 - head * Math.sin(ang);
  g.append("line").attr("x1", x1).attr("y1", y1).attr("x2", bx).attr("y2", by)
    .attr("stroke", color).attr("stroke-width", w);
  const hw = head * 0.45;
  const px = -Math.sin(ang) * hw, py = Math.cos(ang) * hw;
  g.append("path")
    .attr("d", `M${x2},${y2}L${bx + px},${by + py}L${bx - px},${by - py}Z`)
    .attr("fill", color);
}

// axes sketch with field H (angles theta, phi)
function inset(ox, oy, s) {
  const g = svg.append("g").attr("transform", `translate(${ox},${oy}) scale(${s})`);
  g.append("line").attr("x1", 41).attr("y1", -19).attr("x2", 41).attr("y2", 4)
    .attr("stroke", "#aaa").attr("stroke-width", 0.8).attr("stroke-dasharray", "2,2");
  g.append("line").attr("x1", 0).attr("y1", 0).attr("x2", 36).attr("y2", 9)
    .attr("stroke", "#aaa").attr("stroke-width", 0.8).attr("stroke-dasharray", "2,2");
  arrow(g, 0, 0, 0, -46, "#000", 1.2, 6);
  arrow(g, 0, 0, 43, 0, "#000", 1.2, 6);
  arrow(g, 0, 0, -27, 26, "#000", 1.2, 6);
  arrow(g, 0, 0, 41, -19, "#ff0000", 2.6, 11);
  arrow(g, 24, 1, 24, -11, "#22aa22", 1.6, 5);
  g.append("path").attr("d", "M40,4 Q40,10 33,12").attr("fill", "none")
    .attr("stroke", "#2288ee").attr("stroke-width", 1.6);
  g.append("path").attr("d", "M30,13 L36,8 L36,15 Z").attr("fill", "#2288ee");
  const lab = (x, y, t, o) => g.append("text").attr("x", x).attr("y", y).attr("text-anchor", "middle")
    .attr("font-size", o.size).attr("fill", o.color || "#000")
    .attr("font-weight", o.bold ? "bold" : null).attr("font-style", o.it ? "italic" : null).text(t);
  lab(-14, -37, "c", { size: 15, bold: true });
  lab(34, -23, "H", { size: 18, bold: true, color: "#ff0000" });
  lab(57, 1, "b", { size: 15, bold: true });
  lab(-36, 22, "a", { size: 15, bold: true });
  lab(10, 27, "θ", { size: 16, it: true, color: "#22aa22" });
  lab(51, 24, "ϕ", { size: 16, it: true, color: "#2288ee" });
}

function phiNote(x, y) {
  txt(x, y, ["(", { t: "ϕ", i: true }, " = 0 ± 5 °)"], { size: 16, anchor: "middle" });
}

function title(x, y) {
  txt(x, y, ["UTe", { t: "2", s: 22, dy: 8 }], { size: 30 });
}

function formula(x, y, xx) {
  const parts = [{ t: "from ", s: 13 }, { t: "ρ", s: 18 }];
  if (xx) parts.push({ t: "xx", s: 12, dy: 4 }, { t: " = ", s: 15, dy: -4 });
  else parts.push({ t: " = ", s: 15 });
  parts.push({ t: "ρ", s: 18 }, { t: "0", s: 12, dy: 4, n: true }, { t: " + AT", s: 15, dy: -4 }, { t: "2", s: 10, dy: -6, n: true });
  txt(x, y, parts, { italic: true, size: 15 });
}

function sweepLegend(x0, y0, dy, sym, size, tx, fs) {
  [[y0, true, "up-sweep"], [y0 + dy, false, "down-sweep"]].forEach(([yy, open, label]) => {
    svg.append("line").attr("x1", x0).attr("x2", x0 + 28).attr("y1", yy).attr("y2", yy)
      .attr("stroke", col.gray).attr("stroke-width", 1.2);
    svg.append("path").attr("transform", `translate(${x0 + 14},${yy})`)
      .attr("d", d3.symbol().type(sym).size(size)())
      .attr("fill", open ? "#fff" : col.gray).attr("stroke", col.gray).attr("stroke-width", 1.3);
    txt(x0 + tx, yy + 5, [label], { size: fs, italic: true, color: col.gray });
  });
}

function drawPanel(p) {
  const x = d3.scaleLinear().domain([0, p.xmax]).range([p.left, p.right]);
  const y = d3.scaleLinear().domain([0, 8]).range([p.bottom, p.top]);
  const clipId = "clip-" + p.id;
  svg.append("clipPath").attr("id", clipId).append("rect")
    .attr("x", p.left).attr("y", p.top - 4).attr("width", p.right - p.left).attr("height", p.bottom - p.top + 4);
  const plot = svg.append("g").attr("clip-path", `url(#${clipId})`);
  const line = d3.line().x(d => x(d[0])).y(d => y(d[1]));

  p.series.forEach(s => {
    plot.append("path").datum(s.data).attr("d", line)
      .attr("fill", "none").attr("stroke", s.color).attr("stroke-width", 1);
    const sym = d3.symbol().type(s.sym).size(s.size || p.msize);
    plot.append("g").selectAll("path").data(s.data).join("path")
      .attr("transform", d => `translate(${x(d[0])},${y(d[1])})`)
      .attr("d", sym)
      .attr("fill", s.open ? "#fff" : s.color)
      .attr("stroke", s.color)
      .attr("stroke-width", s.open ? (s.sw || 1.4) : 0.4);
  });

  // frame + inward ticks on all four sides
  const xMajor = d3.range(0, p.xmax + 1, 20);
  const xMinor = d3.range(10, p.xmax + 1, 20);
  const styleAxis = (g) => {
    g.select(".domain").remove();
    g.selectAll("line").attr("stroke", "#222");
    g.attr("font-size", 15).attr("font-family", FONT);
    g.selectAll("text").attr("fill", "#000");
  };
  const add = (axis, tx, ty) => svg.append("g").attr("transform", `translate(${tx},${ty})`).call(axis).call(styleAxis);

  add(d3.axisBottom(x).tickValues(xMajor).tickSize(-6).tickPadding(6).tickFormat(d3.format("d")), 0, p.bottom);
  add(d3.axisBottom(x).tickValues(xMinor).tickSize(-3).tickFormat(""), 0, p.bottom);
  add(d3.axisTop(x).tickValues(xMajor).tickSize(-6).tickFormat(""), 0, p.top);
  add(d3.axisTop(x).tickValues(xMinor).tickSize(-3).tickFormat(""), 0, p.top);
  add(d3.axisLeft(y).tickValues(yMajor).tickSize(-6).tickPadding(7).tickFormat(d3.format("d")), p.left, 0);
  add(d3.axisLeft(y).tickValues(yMinor).tickSize(-3).tickFormat(""), p.left, 0);
  add(d3.axisRight(y).tickValues(yMajor).tickSize(-6).tickFormat(""), p.right, 0);
  add(d3.axisRight(y).tickValues(yMinor).tickSize(-3).tickFormat(""), p.right, 0);

  svg.append("rect").attr("x", p.left).attr("y", p.top)
    .attr("width", p.right - p.left).attr("height", p.bottom - p.top)
    .attr("fill", "none").attr("stroke", "#222").attr("stroke-width", 1);

  // axis titles
  const cx = (p.left + p.right) / 2;
  txt(cx - 2, p.bottom + 29, [{ t: "μ", i: true }, { t: "0", s: 12, dy: 4 }, { t: "H", i: true, dy: -4 }, " (T)"],
    { size: 18, anchor: "middle" });
  txt(p.left - 28, (p.top + p.bottom) / 2 + 13,
    [{ t: "A", i: true }, " (μΩ.cm.K", { t: "-2", s: 11, dy: -7 }, { t: ")", dy: 7 }],
    { size: 17, anchor: "middle", rotate: true });
  txt(p.left - 58, p.top + 16, [p.tag], { size: 28 });
}

// ---------- panels ----------
drawPanel({
  id: "a", tag: "(a)", left: 63, right: 510, top: 14, bottom: 357, xmax: 60, msize: 49,
  series: [
    { data: aRedDn, color: col.red, sym: SQ }, { data: aRedUp, color: col.red, sym: SQ, open: true },
    { data: aGreenDn, color: col.green, sym: SQ }, { data: aGreenUp, color: col.green, sym: SQ, open: true },
    { data: aTealDn, color: col.teal, sym: SQ }, { data: aTealUp, color: col.teal, sym: SQ, open: true },
    { data: aOrangeDn, color: col.orange, sym: SQ }, { data: aOrangeUp, color: col.orange, sym: SQ, open: true },
    { data: aBlueDn, color: col.blue, sym: SQ }, { data: aBlueUp, color: col.blue, sym: SQ, open: true },
    { data: aMagentaDn, color: col.magenta, sym: SQ }, { data: aMagentaUp, color: col.magenta, sym: SQ, open: true },
    { data: aLavDn, color: col.lav, sym: SQ }, { data: aLavUp, color: col.lav, sym: SQ, open: true }
  ]
});

drawPanel({
  id: "b", tag: "(b)", left: 600, right: 1044, top: 14, bottom: 357, xmax: 70, msize: 50,
  series: [
    { data: bS3Up, color: col.gray, sym: d3.symbolDiamond, open: true, size: 55 },
    { data: bS3, color: col.gray, sym: d3.symbolDiamond, size: 55 },
    { data: bS2, color: col.cyan, sym: d3.symbolTriangle, size: 50 },
    { data: bS1, color: col.dgreen, sym: d3.symbolCircle, size: 55 },
    { data: bS5, color: "#000", sym: d3.symbolCircle, size: 60 },
    { data: bS5Up, color: "#000", sym: d3.symbolCircle, open: true, size: 52, sw: 2 },
    { data: bS7m, color: col.magenta, sym: d3.symbolStar, size: 60 },
    { data: bS7gUp, color: col.bgreen, sym: symTriDown, open: true, size: 50 },
    { data: bS7g, color: col.bgreen, sym: symTriDown, size: 50 },
    { data: bS6, color: col.blue, sym: symPentagon, size: 60 },
    { data: bS6Up, color: col.blue, sym: symPentagon, open: true, size: 52, sw: 1.8 }
  ]
});

drawPanel({
  id: "c", tag: "(c)", left: 63, right: 510, top: 415, bottom: 759, xmax: 60, msize: 49,
  series: [
    { data: cRedDn, color: col.red, sym: SQ }, { data: cRedUp, color: col.red, sym: SQ, open: true },
    { data: cGreenDn, color: col.green, sym: SQ }, { data: cGreenUp, color: col.green, sym: SQ, open: true },
    { data: cCyanDn, color: col.cyan, sym: SQ }, { data: cCyanUp, color: col.cyan, sym: SQ, open: true },
    { data: cOrangeDn, color: col.orange, sym: SQ }, { data: cOrangeUp, color: col.orange, sym: SQ, open: true },
    { data: cBlueDn, color: col.blue, sym: SQ }, { data: cBlueUp, color: col.blue, sym: SQ, open: true },
    { data: cMagentaDn, color: col.magenta, sym: SQ }, { data: cMagentaUp, color: col.magenta, sym: SQ, open: true }
  ]
});

drawPanel({
  id: "d", tag: "(d)", left: 600, right: 1044, top: 415, bottom: 759, xmax: 60, msize: 56,
  series: [
    { data: dOrangeDn, color: col.orange, sym: SQ }, { data: dOrangeUp, color: col.orange, sym: SQ, open: true },
    { data: dPurpleDn, color: col.purple, sym: SQ }, { data: dPurpleUp, color: col.purple, sym: SQ, open: true },
    { data: dBrownDn, color: col.brown, sym: SQ }, { data: dBrownUp, color: col.brown, sym: SQ, open: true }
  ]
});

// ---------- annotations ----------
// (a)
title(91, 57);
formula(360, 42, true);
inset(127, 129, 1);
phiNote(142, 179);
sweepLegend(389, 77, 15, SQ, 44, 34, 13);
txt(340, 84, ["31 °"], { color: col.orange });
txt(295, 113, ["28.5 °"], { color: col.teal });
txt(397, 131, ["36.2 °"], { color: col.blue });
txt(287, 159, ["19.7 °"], { color: col.green });
txt(239, 203, [{ t: "θ", i: true }, " = ", { t: "4.2 °", c: col.red }]);
txt(430, 181, ["44 °"], { color: col.magenta });
txt(445, 218, ["44.4 °"], { color: col.lav });
txt(455, 332, ["(s#18)"], { size: 15, italic: true, color: col.gray });

// (b)
title(619, 58);
formula(718, 53, true);
inset(654, 127, 0.88);
phiNote(692, 166);
txt(758, 138, [{ t: "θ", i: true }, " = 0 °"]);
txt(872, 118, ["40 °"], { size: 18, color: col.blue });
txt(912, 118, ["40.7 °"], { size: 18, color: col.magenta });
txt(951, 131, ["41 °"], { size: 18, color: col.bgreen });
txt(907, 64, ["27 ± 5 °"], { size: 18, color: col.gray });
txt(893, 80, ["(initial estimation)"], { size: 11.5, italic: true, color: col.gray });
svg.append("line").attr("x1", 889).attr("x2", 995).attr("y1", 87).attr("y2", 87)
  .attr("stroke", col.gray).attr("stroke-width", 1.3);
svg.append("line").attr("x1", 988).attr("x2", 988).attr("y1", 98).attr("y2", 143)
  .attr("stroke", col.gray).attr("stroke-width", 1.3);
txt(996, 103, ["(reestimated"], { size: 11.5, italic: true, color: col.gray });
txt(996, 117, ["from H", { t: "m", s: 8, dy: 3 }], { size: 11.5, italic: true, color: col.gray });
txt(996, 134, ["assuming"], { size: 11.5, italic: true, color: col.gray });
txt(996, 148, ["ϕ = 0)"], { size: 10, italic: true, color: col.gray });
sweepLegend(947, 324, 15, d3.symbolDiamond, 55, 27, 14);

// (b) sample legend
svg.append("rect").attr("x", 609).attr("y", 178).attr("width", 177).attr("height", 65)
  .attr("fill", "#fff").attr("stroke", "#555").attr("stroke-width", 1);
const bLegend = [
  [613, 187, col.dgreen, d3.symbolCircle, "(s#1)", " *"],
  [613, 202, col.cyan, d3.symbolTriangle, "(s#2)", " *"],
  [613, 218, col.gray, d3.symbolDiamond, "(s#3)", " *"],
  [613, 233, "#000", d3.symbolCircle, "(s#5)", " **"],
  [703, 187, col.blue, symPentagon, "(s#6)", " **"],
  [703, 202, col.bgreen, symTriDown, "(s#7)", " **"],
  [703, 218, col.magenta, d3.symbolStar, " (s#7)", " **"]
];
bLegend.forEach(([lx, ly, c, sym, lab, star]) => {
  svg.append("line").attr("x1", lx).attr("x2", lx + 29).attr("y1", ly).attr("y2", ly)
    .attr("stroke", c).attr("stroke-width", 1.3);
  svg.append("path").attr("transform", `translate(${lx + 14},${ly})`)
    .attr("d", d3.symbol().type(sym).size(65)()).attr("fill", c);
  txt(lx + 33, ly + 5, [{ t: lab, i: true }, star], { size: 14 });
});
txt(621, 260, ["*"], { size: 12 });
txt(636, 260, ["Knafo 2019"], { size: 12.5, italic: true });
txt(619, 273, ["**"], { size: 12 });
txt(638, 273, ["Knafo 2021"], { size: 12.5, italic: true });

// (c)
title(85, 462);
formula(92, 515, false);
inset(123, 584, 0.95);
phiNote(133, 628);
sweepLegend(210, 440, 15, SQ, 44, 37, 14);
txt(377, 489, ["32 °"], { color: col.orange });
txt(298, 524, ["29.9 °"], { color: col.cyan });
txt(423, 549, ["39.14 °"], { color: col.blue });
txt(273, 564, ["15.5 °"], { color: col.green });
txt(248, 615, [{ t: "θ", i: true }, " = ", { t: "0 °", c: col.red }]);
txt(449, 610, ["46.3 °"], { color: col.magenta });
txt(452, 743, ["(s#19)"], { size: 15, italic: true, color: col.gray });

// (d)
title(632, 463);
formula(633, 508, true);
inset(660, 592, 0.95);
phiNote(672, 635);
sweepLegend(908, 446, 15, SQ, 48, 37, 14);
txt(818, 499, [{ t: "θ", i: true }, " = ", { t: "30 °", c: col.orange }]);
txt(948, 550, ["40 °"], { color: col.purple });
txt(1000, 627, ["46 °"], { color: col.brown });
txt(982, 746, ["(s#16)"], { size: 15, italic: true, color: col.gray });
</script>
</body>
</html>
